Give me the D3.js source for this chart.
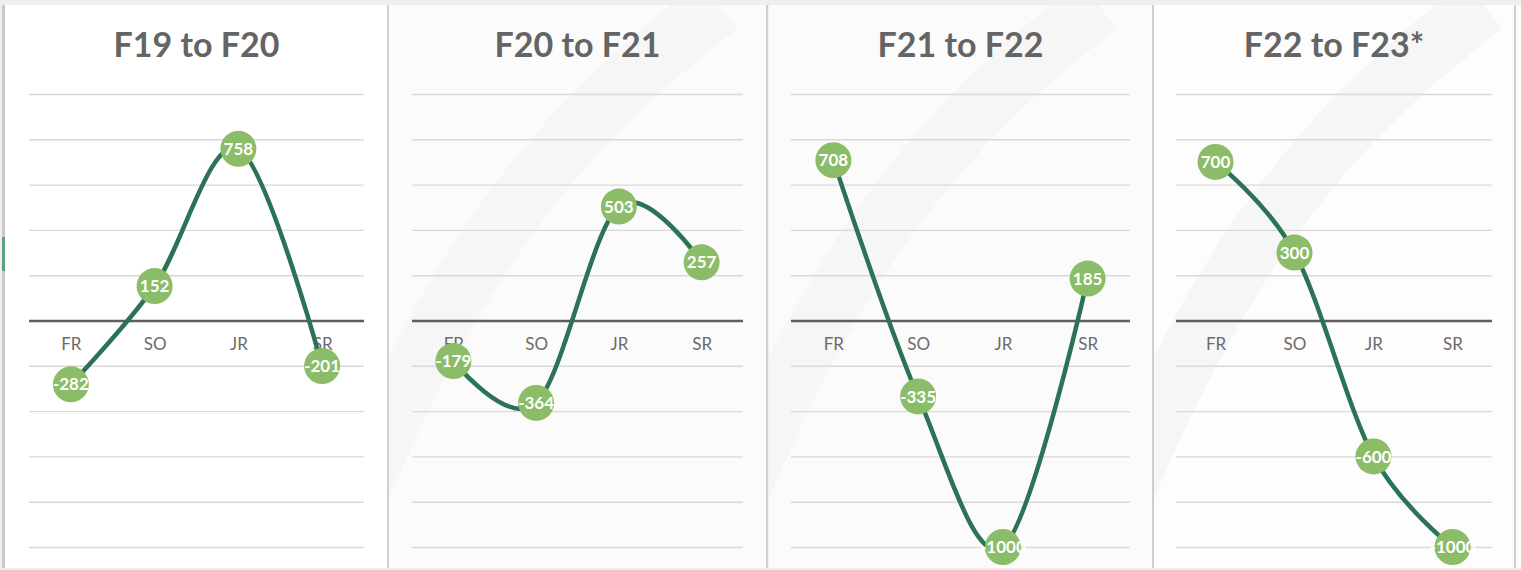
<!DOCTYPE html>
<html>
<head>
<meta charset="utf-8">
<script src="https://cdn.jsdelivr.net/npm/d3@7"></script>
<style>
  html, body { margin: 0; padding: 0; background: #efefef; }
  svg { display: block; }
</style>
</head>
<body>
<svg id="chart"></svg>
<script>
// Data
const categories = ["FR", "SO", "JR", "SR"];
const titles = ["F19 to F20", "F20 to F21", "F21 to F22", "F22 to F23*"];
const f19to20 = [-282, 152, 758, -201];
const f20to21 = [-179, -364, 503, 257];
const f21to22 = [708, -335, -1000, 185];
const f22to23 = [700, 300, -600, -1000];
const gridTicks = [-1000, -800, -600, -400, -200, 0, 200, 400, 600, 800, 1000];

const series = [f19to20, f20to21, f21to22, f22to23];

const svgWidth = 1521;
const svgHeight = 570;

// Panel frames and plot extents (px)
const panels = [
	{left: 5, right: 388, plot: [29, 364], bg: "#ffffff"},
	{left: 389, right: 767, plot: [412, 743], bg: "#fbfbfb"},
	{left: 769, right: 1153, plot: [791, 1130], bg: "#fbfbfb"},
	{left: 1154, right: 1515, plot: [1176, 1492], bg: "#fdfdfd"}
];
const panelTop = 5, panelBottom = 568;

const scaleY = d3.scaleLinear()
	.domain([-1000, 1000])
	.range([547, 94]);

const chart = d3.select("#chart")
	.attr("width", svgWidth)
	.attr("height", svgHeight);

chart.append("rect")
	.attr("width", svgWidth).attr("height", svgHeight)
	.attr("fill", "#efefef");

// strip right of last panel
chart.append("rect")
	.attr("x", 1516).attr("y", panelTop).attr("width", 5).attr("height", panelBottom - panelTop)
	.attr("fill", "#fcfcfc");

// left edge accent
chart.append("rect")
	.attr("x", 2).attr("y", 5).attr("width", 3).attr("height", 563)
	.attr("fill", "#c9c9c9");
chart.append("rect")
	.attr("x", 2).attr("y", 237).attr("width", 3).attr("height", 34)
	.attr("fill", "#5f9e7e");

const line = d3.line()
	.curve(d3.curveCardinal.tension(0));

panels.forEach((p, i) => {
	const g = chart.append("g");

	g.append("rect")
		.attr("x", p.left).attr("y", panelTop)
		.attr("width", p.right - p.left).attr("height", panelBottom - panelTop)
		.attr("fill", p.bg);

	// faint background swooshes
	if (i > 0) {
		g.append("clipPath").attr("id", `clip${i}`)
			.append("rect")
			.attr("x", p.left).attr("y", panelTop)
			.attr("width", p.right - p.left).attr("height", panelBottom - panelTop);
		g.append("path")
			.attr("clip-path", `url(#clip${i})`)
			.attr("d", `M${p.left - 60},${panelBottom} C${p.left + 60},250 ${p.left + 180},120 ${p.left + 330},${panelTop}`)
			.attr("fill", "none")
			.attr("stroke", "#f6f6f6")
			.attr("stroke-width", 60);
	}

	// separator on right
	g.append("line")
		.attr("x1", p.right).attr("x2", p.right)
		.attr("y1", panelTop).attr("y2", panelBottom)
		.attr("stroke", "#cfcfcf")
		.attr("stroke-width", 2);

	const scaleX = d3.scalePoint()
		.domain(categories)
		.range(p.plot)
		.padding(0.5);

	// gridlines
	g.append("g")
		.attr("transform", `translate(${p.plot[0]}, 0)`)
		.call(d3.axisLeft(scaleY)
			.tickValues(gridTicks)
			.tickSize(-(p.plot[1] - p.plot[0]))
			.tickFormat(""))
		.call(a => a.select(".domain").remove())
		.call(a => a.selectAll(".tick line")
			.attr("stroke", d => d === 0 ? "#5e5e5e" : "#d9d9d9")
			.attr("stroke-width", d => d === 0 ? 2.6 : 1.4));

	// category labels
	g.append("g")
		.attr("transform", `translate(0, ${scaleY(0)})`)
		.call(d3.axisBottom(scaleX).tickSize(0).tickPadding(17))
		.call(a => a.select(".domain").remove())
		.call(a => a.selectAll("text")
			.attr("fill", "#6b6b6b")
			.attr("font-family", "Lato, 'Open Sans', sans-serif")
			.attr("font-size", 17));

	// title
	g.append("text")
		.attr("x", (p.plot[0] + p.plot[1]) / 2)
		.attr("y", 57)
		.attr("text-anchor", "middle")
		.attr("fill", "#646464")
		.attr("font-family", "Lato, 'Open Sans', sans-serif")
		.attr("font-weight", 700)
		.attr("font-size", 34)
		.text(titles[i]);

	const pts = series[i].map((v, j) => [scaleX(categories[j]), scaleY(v)]);

	g.append("path")
		.attr("d", line(pts))
		.attr("fill", "none")
		.attr("stroke", "#2c7356")
		.attr("stroke-width", 4.5);

	const dots = g.selectAll(".dot")
		.data(series[i])
		.join("g")
		.attr("transform", (d, j) => `translate(${scaleX(categories[j])}, ${scaleY(d)})`);

	dots.append("circle")
		.attr("r", 18)
		.attr("fill", "#8bbd68");

	dots.append("text")
		.attr("text-anchor", "middle")
		.attr("dy", "0.36em")
		.attr("fill", "#ffffff")
		.attr("font-family", "Lato, 'Open Sans', sans-serif")
		.attr("font-weight", 700)
		.attr("font-size", 17)
		.text(d => d);
});
</script>
</body>
</html>
